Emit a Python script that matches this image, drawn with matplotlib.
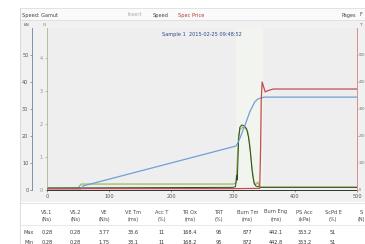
import matplotlib
matplotlib.use("Agg")
from matplotlib import pyplot as plt
from matplotlib.patches import Rectangle
from matplotlib.lines import Line2D

W, H = 365, 244

# x values are in seconds
RED_X = [0, 150, 300, 343, 344.5, 345.5, 347, 349, 352, 356, 365, 420, 500]
RED_Y = [5, 5, 5, 6, 150, 330, 400, 385, 363, 368, 374, 374, 374]

BLUE_X = [0, 55, 58, 150, 250, 305, 310, 315, 320, 327, 335, 340, 350, 500]
BLUE_Y = [4, 4, 15, 70, 130, 163, 185, 215, 244, 289, 326, 337, 344, 344]

OLIVE_X = [0, 50, 55, 300, 305, 307, 309, 312, 316, 320, 324, 327, 330, 333, 336, 340, 343, 500]
OLIVE_Y = [0.06, 0.06, 0.18, 0.18, 0.21, 0.94, 1.70, 1.85, 1.91, 1.88, 1.76, 1.39, 0.79, 0.33, 0.15, 0.24, 0.09, 0.09]

DARK_X = [0, 300, 304, 306, 307, 309, 311, 314, 318, 322, 325, 328, 331, 334, 337, 341, 344, 500]
DARK_Y = [0.06, 0.08, 0.10, 0.45, 0.30, 1.50, 1.90, 1.97, 1.95, 1.85, 1.60, 1.15, 0.55, 0.20, 0.12, 0.10, 0.08, 0.08]

X_TICKS = [0, 100, 200, 300, 400, 500]
LEFT1_TICKS = [0, 10, 20, 30, 40, 50]
LEFT2_TICKS = [0, 1, 2, 3, 4]
RIGHT_TICKS = [0, 100, 200, 300, 400, 500]

COLUMNS = ["VS.1", "VS.2", "VE", "VE Tm", "Acc T", "TR Ox", "TRT",
           "Burn Tm", "Burn Eng", "PS Acc", "ScPd E", "S"]
UNITS = ["(Ns)", "(Ns)", "(N/s)", "(ms)", "(%)", "(ms)", "(%)",
         "(ms)", "(ms)", "(kPa)", "(%)", "(N)"]
ROW_LABELS = ["Max", "Min"]
ROW_MAX = ["0.28", "0.28", "3.77", "33.6", "11", "168.4", "95",
           "877", "442.1", "353.2", "51", ""]
ROW_MIN = ["0.28", "0.28", "1.75", "33.1", "11", "168.2", "95",
           "872", "442.8", "353.2", "51", ""]

FS = 3.6


def fx(px: float) -> float:
    return px / W


def fy(py: float) -> float:
    return 1 - py / H


def px_rect(left, top, right, bottom):
    return [fx(left), fy(bottom), (right - left) / W, (bottom - top) / H]


fig = plt.figure(figsize=(W / 100, H / 100), dpi=100)
fig.patch.set_facecolor("white")

# window frame, toolbar and chart panel
fig.add_artist(Rectangle((fx(20), fy(202)), 1 - fx(20), fy(20) - fy(202),
                         transform=fig.transFigure, facecolor="#f1f1f1",
                         edgecolor="none", zorder=0))
fig.add_artist(Rectangle((fx(20), fy(20)), 1 - fx(20), fy(8) - fy(20),
                         transform=fig.transFigure, facecolor="#fafafa",
                         edgecolor="#d8d8d8", linewidth=0.5, zorder=0))
fig.add_artist(Line2D([fx(20), fx(20)], [fy(8), 0], transform=fig.transFigure,
                      color="#d0d0d0", linewidth=0.5))

fig.text(fx(22), fy(15), "Speed: Gamut", fontsize=FS, color="#444", va="center")
fig.text(fx(128), fy(15), "Insert", fontsize=FS, color="#aaa", va="center")
fig.text(fx(153), fy(15), "Speed", fontsize=FS, color="#444", va="center")
fig.text(fx(178), fy(15), "Spec Price", fontsize=FS, color="#b03a2e", va="center")
fig.text(fx(342), fy(15), "Pages", fontsize=FS, color="#444", va="center")
fig.text(fx(359), fy(15), "F", fontsize=FS, color="#444", va="center")

# main chart: green traces on the inner left axis
ax = fig.add_axes(px_rect(47, 28, 357, 190))
ax.set_facecolor("#eeeeee")
ax.set_xlim(0, 500)
ax.set_ylim(0, 162 / 33)
ax.axvspan(305, 346, color="#f2f4ef", zorder=0)
ax.plot(OLIVE_X, OLIVE_Y, color="#9bbb59", linewidth=0.9)
ax.plot(DARK_X, DARK_Y, color="#2f4a25", linewidth=0.7)
ax.set_xticks(X_TICKS)
ax.set_yticks(LEFT2_TICKS)
ax.tick_params(labelsize=FS, length=1.5, width=0.4, pad=1.5)
ax.tick_params(axis="y", colors="#8a9a7a")
ax.tick_params(axis="x", colors="#555")
ax.spines["top"].set_visible(False)
ax.spines["right"].set_visible(False)
ax.spines["left"].set_color("#a9b59a")
ax.spines["left"].set_linewidth(0.6)
ax.spines["bottom"].set_color("#333")
ax.spines["bottom"].set_linewidth(0.7)

# outer left axis (no trace shown)
ax_l = ax.twinx()
ax_l.set_ylim(0, 60)
ax_l.set_yticks(LEFT1_TICKS)
ax_l.yaxis.tick_left()
ax_l.spines["left"].set_position(("outward", 15 * 0.72))
for side in ["top", "right", "bottom"]:
    ax_l.spines[side].set_visible(False)
ax_l.spines["left"].set_visible(True)
ax_l.spines["left"].set_color("#8090a8")
ax_l.spines["left"].set_linewidth(0.7)
ax_l.tick_params(labelsize=FS, length=1.5, width=0.4, pad=1, colors="#555")

# right axis: red and blue traces
ax_r = ax.twinx()
ax_r.set_ylim(0, 600)
ax_r.set_yticks(RIGHT_TICKS)
ax_r.plot(BLUE_X, BLUE_Y, color="#6f9fd8", linewidth=0.9)
ax_r.plot(RED_X, RED_Y, color="#c0504d", linewidth=0.9)
for side in ["top", "left", "bottom"]:
    ax_r.spines[side].set_visible(False)
ax_r.spines["right"].set_color("#d98c8c")
ax_r.spines["right"].set_linewidth(0.7)
ax_r.tick_params(labelsize=2.4, length=1.0, width=0.4, pad=0.3, colors="#666")

ax.set_title("Sample 1  2015-02-25 09:48:52", fontsize=FS, color="#2c4a8c",
             y=0.95, pad=0)

# axis header marks
fig.text(fx(27), fy(25), "kN", fontsize=FS - 0.4, color="#555", ha="center", va="center")
fig.text(fx(44), fy(25), "N", fontsize=FS - 0.4, color="#8a9a7a", ha="center", va="center")
fig.text(fx(360), fy(25), "T", fontsize=FS - 0.4, color="#b05050", ha="center", va="center")

# results table
fig.add_artist(Line2D([fx(20), 1], [fy(203), fy(203)], transform=fig.transFigure,
                      color="#d6d6d6", linewidth=0.5))
fig.add_artist(Line2D([fx(20), 1], [fy(225), fy(225)], transform=fig.transFigure,
                      color="#e0e0e0", linewidth=0.5))
col_x = [47 + i * 28.6 for i in range(len(COLUMNS))]
for x, name, unit in zip(col_x, COLUMNS, UNITS):
    fig.text(fx(x), fy(212), name, fontsize=FS, color="#444", ha="center", va="center")
    fig.text(fx(x), fy(219), unit, fontsize=FS, color="#444", ha="center", va="center")
for y, label, values in zip([232, 242], ROW_LABELS, [ROW_MAX, ROW_MIN]):
    fig.text(fx(29), fy(y), label, fontsize=FS, color="#444", ha="center", va="center")
    for x, v in zip(col_x, values):
        fig.text(fx(x), fy(y), v, fontsize=FS, color="#333", ha="center", va="center")

fig.savefig("out.png", dpi=100)
plt.close()
